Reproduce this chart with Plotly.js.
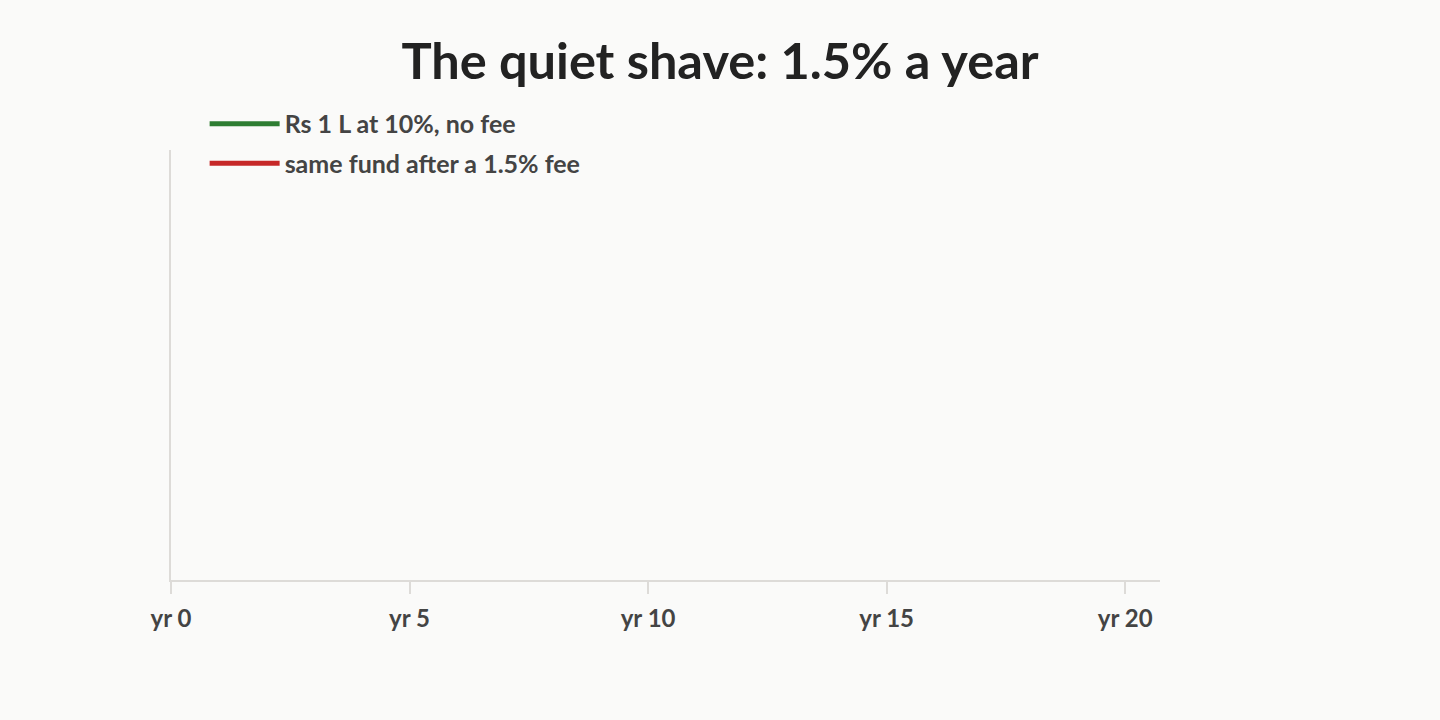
<!DOCTYPE html>
<html>
<head>
<meta charset="utf-8">
<script src="https://cdn.plot.ly/plotly-3.0.1.min.js"></script>
<style>
	html, body { margin: 0; padding: 0; background: #fafaf9; }
	#chart { width: 1440px; height: 720px; }
</style>
</head>
<body>
<div id="chart"></div>
<script>
// years on the axis and their labels
const tickYears = [0, 5, 10, 15, 20];
const tickLabels = ['yr 0', 'yr 5', 'yr 10', 'yr 15', 'yr 20'];

// series names; no line shows in the picture, so every value is a gap
const seriesNames = ['Rs 1 L at 10%, no fee', 'same fund after a 1.5% fee'];
const years = [0, 5, 10, 15, 20];
const noFeeValues = [null, null, null, null, null];
const withFeeValues = [null, null, null, null, null];

const font = { family: 'Lato, sans-serif', color: '#444' };

const traces = [
	{
		name: seriesNames[0],
		legendgroup: 'nofee',
		x: years,
		y: noFeeValues,
		mode: 'lines',
		line: { color: '#2e7d32', width: 5 }
	},
	{
		name: seriesNames[1],
		legendgroup: 'fee',
		x: years,
		y: withFeeValues,
		mode: 'lines',
		line: { color: '#c62828', width: 5 }
	}
];

const layout = {
	width: 1440,
	height: 720,
	paper_bgcolor: '#fafaf9',
	plot_bgcolor: '#fafaf9',
	margin: { l: 171, r: 280, t: 150, b: 140 },
	font,
	title: {
		text: '<b>The quiet shave: 1.5% a year</b>',
		font: { family: 'Lato, sans-serif', size: 50.5, color: '#222' },
		x: 0.5,
		xanchor: 'center',
		y: 0.915,
		yanchor: 'middle'
	},
	showlegend: true,
	legend: {
		x: 0.034,
		y: 1.114,
		xanchor: 'left',
		yanchor: 'top',
		bgcolor: 'rgba(0,0,0,0)',
		itemwidth: 70,
		traceorder: 'grouped',
		tracegroupgap: 4,
		font: { family: 'Lato, sans-serif', size: 25, color: '#444', weight: 'bold' }
	},
	xaxis: {
		range: [0, 20.73],
		tickvals: tickYears,
		ticktext: tickLabels,
		ticks: 'outside',
		ticklen: 12,
		tickwidth: 2,
		tickcolor: '#dddbd8',
		ticklabelstandoff: 4,
		showline: true,
		linecolor: '#dddbd8',
		linewidth: 2,
		showgrid: false,
		zeroline: false,
		tickfont: { family: 'Lato, sans-serif', size: 24, color: '#444', weight: 'bold' }
	},
	yaxis: {
		range: [0, 7],
		showline: true,
		linecolor: '#dddbd8',
		linewidth: 2,
		showgrid: false,
		zeroline: false,
		showticklabels: false,
		ticks: ''
	}
};

Plotly.newPlot('chart', traces, layout, { displayModeBar: false, staticPlot: true });
</script>
</body>
</html>
